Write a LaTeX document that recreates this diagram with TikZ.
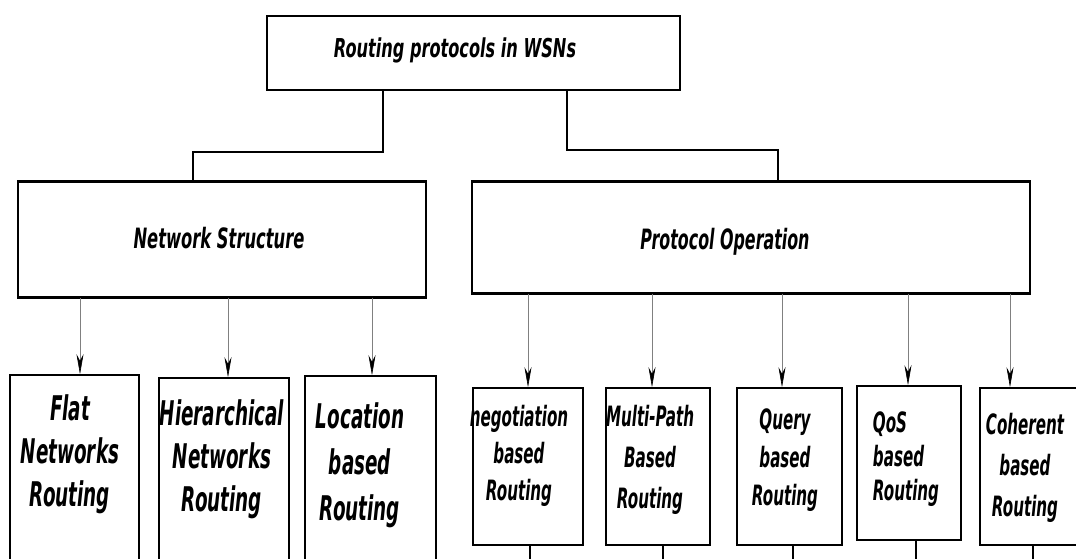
\documentclass[tikz,border=0pt]{standalone}
\usepackage{fontspec}
\setmainfont{DejaVu Sans}
\usetikzlibrary{arrows.meta}

\tikzset{
  box/.style={draw,line width=1.6pt,inner sep=0pt},
  txt/.style 2 args={font=\bfseries\itshape\fontsize{#1}{#2}\selectfont,align=center,xscale=0.54,transform shape},
  feed/.style={draw=gray,line width=0.6pt,-{Stealth[length=20pt,width=7pt,black]}}
}

\begin{document}
\begin{tikzpicture}[x=1pt,y=-1pt]
\useasboundingbox (0,0) rectangle (1076,558);
% root and the two groups
\node[box,line width=2.6pt,minimum width=413pt,minimum height=74pt] (root) at (473.5,53) {};
\node[txt={26}{30},xscale=1.15] (rootl) at (455,50) {Routing protocols in WSNs};
\node[box,line width=1.2pt,minimum width=408pt,minimum height=115pt] (ns) at (222,239.5) {};
\node[box,line width=1.2pt,minimum width=558pt,minimum height=111pt] (po) at (751,237.5) {};
\foreach \n in {ns,po}{
    \draw[line width=3pt] (\n.north west) -- (\n.north east);
    \draw[line width=3pt] (\n.south west) -- (\n.south east);
}
\node[txt={28}{32},xscale=1.08] (nsl) at (219,238) {Network Structure};
\node[txt={28}{32},xscale=1.05] (pol) at (725,242) {Protocol Operation};
\draw[line width=1.2pt] (383,0 |- root.south) -- (383,152) -| (193,0 |- ns.north);
\draw[line width=1.2pt] (567,0 |- root.south) -- (567,150) -| (778,0 |- po.north);

% leaves
\foreach \n/\cx/\cy/\w/\h in {flat/74.5/472.5/129/195,hier/224/474/130/192,loc/370.5/473/131/194,
        neg/528/466.5/110/157,mp/658/466.5/104/157,query/789.5/466.5/105/157,
        qos/909/463/104/154,coh/1035/466.5/110/157}
    \node[box,minimum width=\w pt,minimum height=\h pt] (\n) at (\cx,\cy) {};

\node[txt={34}{43}] (flatl) at (70,454) {Flat\\Networks\\Routing};
\node[txt={34}{43}] (hierl) at (222,459) {Hierarchical\\Networks\\Routing};
\node[txt={34}{46}] (locl) at (360,465) {Location\\based\\Routing};
\node[txt={28}{37}] (negl) at (519,456) {negotiation\\based\\Routing};
\node[txt={28}{41}] (mpl) at (650,460) {Multi-Path\\Based\\Routing};
\node[txt={28}{38}] (queryl) at (785,460) {Query\\based\\Routing};
\node[txt={28}{34},align=left] (qosl) at (906,459) {QoS\\based\\Routing};
\node[txt={28}{41}] (cohl) at (1025,468) {Coherent\\based\\Routing};

% arrows down to the leaves
\foreach \n/\x in {flat/80,hier/228,loc/372}
    \draw[feed] (\x,0 |- ns.south) -- (\x,0 |- \n.north);
\foreach \n/\x in {neg/528,mp/652,query/782,qos/908,coh/1010}
    \draw[feed] (\x,0 |- po.south) -- (\x,0 |- \n.north);
\foreach \n/\x in {neg/530,mp/663,query/793,qos/916,coh/1033}
    \draw[line width=1.2pt] (\x,0 |- \n.south) -- (\x,570);
\end{tikzpicture}
\end{document}
